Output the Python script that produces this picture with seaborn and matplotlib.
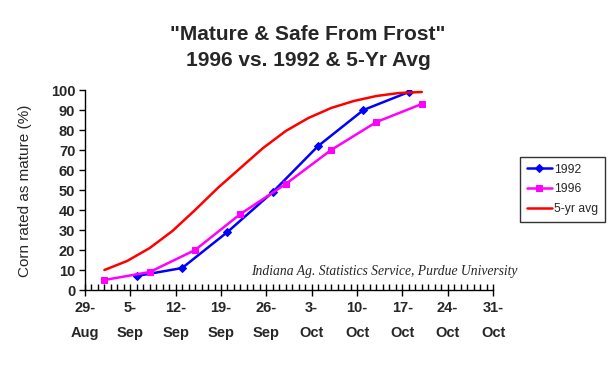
import numpy as np
import pandas as pd
import seaborn as sns
import matplotlib.pyplot as plt
from matplotlib.ticker import MultipleLocator

# days counted from 29-Aug
days_1992 = [8, 15, 22, 29, 36, 43, 50]
pct_1992 = [7, 11, 29, 49, 72, 90, 99]

days_1996 = [3, 10, 17, 24, 31, 38, 45, 52]
pct_1996 = [5, 9, 20, 38, 53, 70, 84, 93]

# 5-yr avg is a smooth curve, read at half-week steps
days_avg = [3, 6.5, 10, 13.5, 17, 20.5, 24, 27.5, 31, 34.5, 38, 41.5, 45, 48.5, 52]
pct_avg = [10, 14.5, 21, 29.5, 40, 51, 61, 71, 79.5, 86, 91, 94.5, 97, 98.5, 99]

tick_labels = ["29-\nAug", "5-\nSep", "12-\nSep", "19-\nSep", "26-\nSep",
               "3-\nOct", "10-\nOct", "17-\nOct", "24-\nOct", "31-\nOct"]

sns.set_theme(style="white")
plt.rcParams['font.family'] = ['Liberation Sans', 'DejaVu Sans']

fig = plt.figure(figsize=(6.15, 3.65), dpi=100)
ax = fig.add_axes([85 / 615, 1 - 290 / 365, (493 - 85) / 615, 200 / 365])

sns.lineplot(x=days_1992, y=pct_1992, ax=ax, color="#0000FF", lw=1.8,
             marker="D", markersize=4.5, markeredgecolor="#0000FF", label="1992")
sns.lineplot(x=days_1996, y=pct_1996, ax=ax, color="#FF00FF", lw=1.8,
             marker="s", markersize=5, markeredgecolor="#FF00FF", label="1996")
sns.lineplot(x=days_avg, y=pct_avg, ax=ax, color="#FF0000", lw=1.8,
             label="5-yr avg")

ax.set_xlim(0, 63)
ax.set_ylim(0, 100)
ax.set_xticks(np.arange(0, 64, 7))
ax.set_xticklabels(tick_labels, fontweight="bold", fontsize=10.5, linespacing=1.95)
ax.xaxis.set_minor_locator(MultipleLocator(1))
ax.set_yticks(np.arange(0, 101, 10))
ax.set_yticklabels([str(v) for v in range(0, 101, 10)], fontweight="bold", fontsize=10.5)
ax.tick_params(axis="x", which="major", direction="inout", length=8, width=1, color="black", pad=4, bottom=True)
ax.tick_params(axis="x", which="minor", direction="in", length=4, width=1, color="black", bottom=True)
ax.tick_params(axis="y", which="major", direction="out", length=4, width=1, color="black", left=True, pad=3)

for s in ["top", "right"]:
    ax.spines[s].set_visible(False)
for s in ["left", "bottom"]:
    ax.spines[s].set_color("black")
    ax.spines[s].set_linewidth(1)

ax.set_ylabel("")
ax.set_xlabel("")
fig.text(25 / 615, 1 - 191 / 365, "Corn rated as mature (%)", rotation=90,
         ha="center", va="center", fontsize=11)

fig.text(517 / 615, 1 - 271 / 365, "Indiana Ag. Statistics Service, Purdue University",
         ha="right", va="center", fontsize=9.8,
         family="Liberation Serif", style="italic")

fig.text(308 / 615, 1 - 35 / 365, '"Mature & Safe From Frost"',
         ha="center", va="center", fontsize=15, fontweight="bold")
fig.text(308 / 615, 1 - 60 / 365, "1996 vs. 1992 & 5-Yr Avg",
         ha="center", va="center", fontsize=15, fontweight="bold")

handles, labels = ax.get_legend_handles_labels()
ax.get_legend().remove()
leg = fig.legend(handles, labels, loc="upper left",
                 bbox_to_anchor=(520 / 615, 1 - 157 / 365),
                 fontsize=8.7, frameon=True, fancybox=False, handlelength=2.1,
                 borderpad=0.55, labelspacing=0.65, handletextpad=0.2,
                 borderaxespad=0)
leg.get_frame().set_edgecolor("black")
leg.get_frame().set_linewidth(1)

fig.savefig("out.png", dpi=100)
